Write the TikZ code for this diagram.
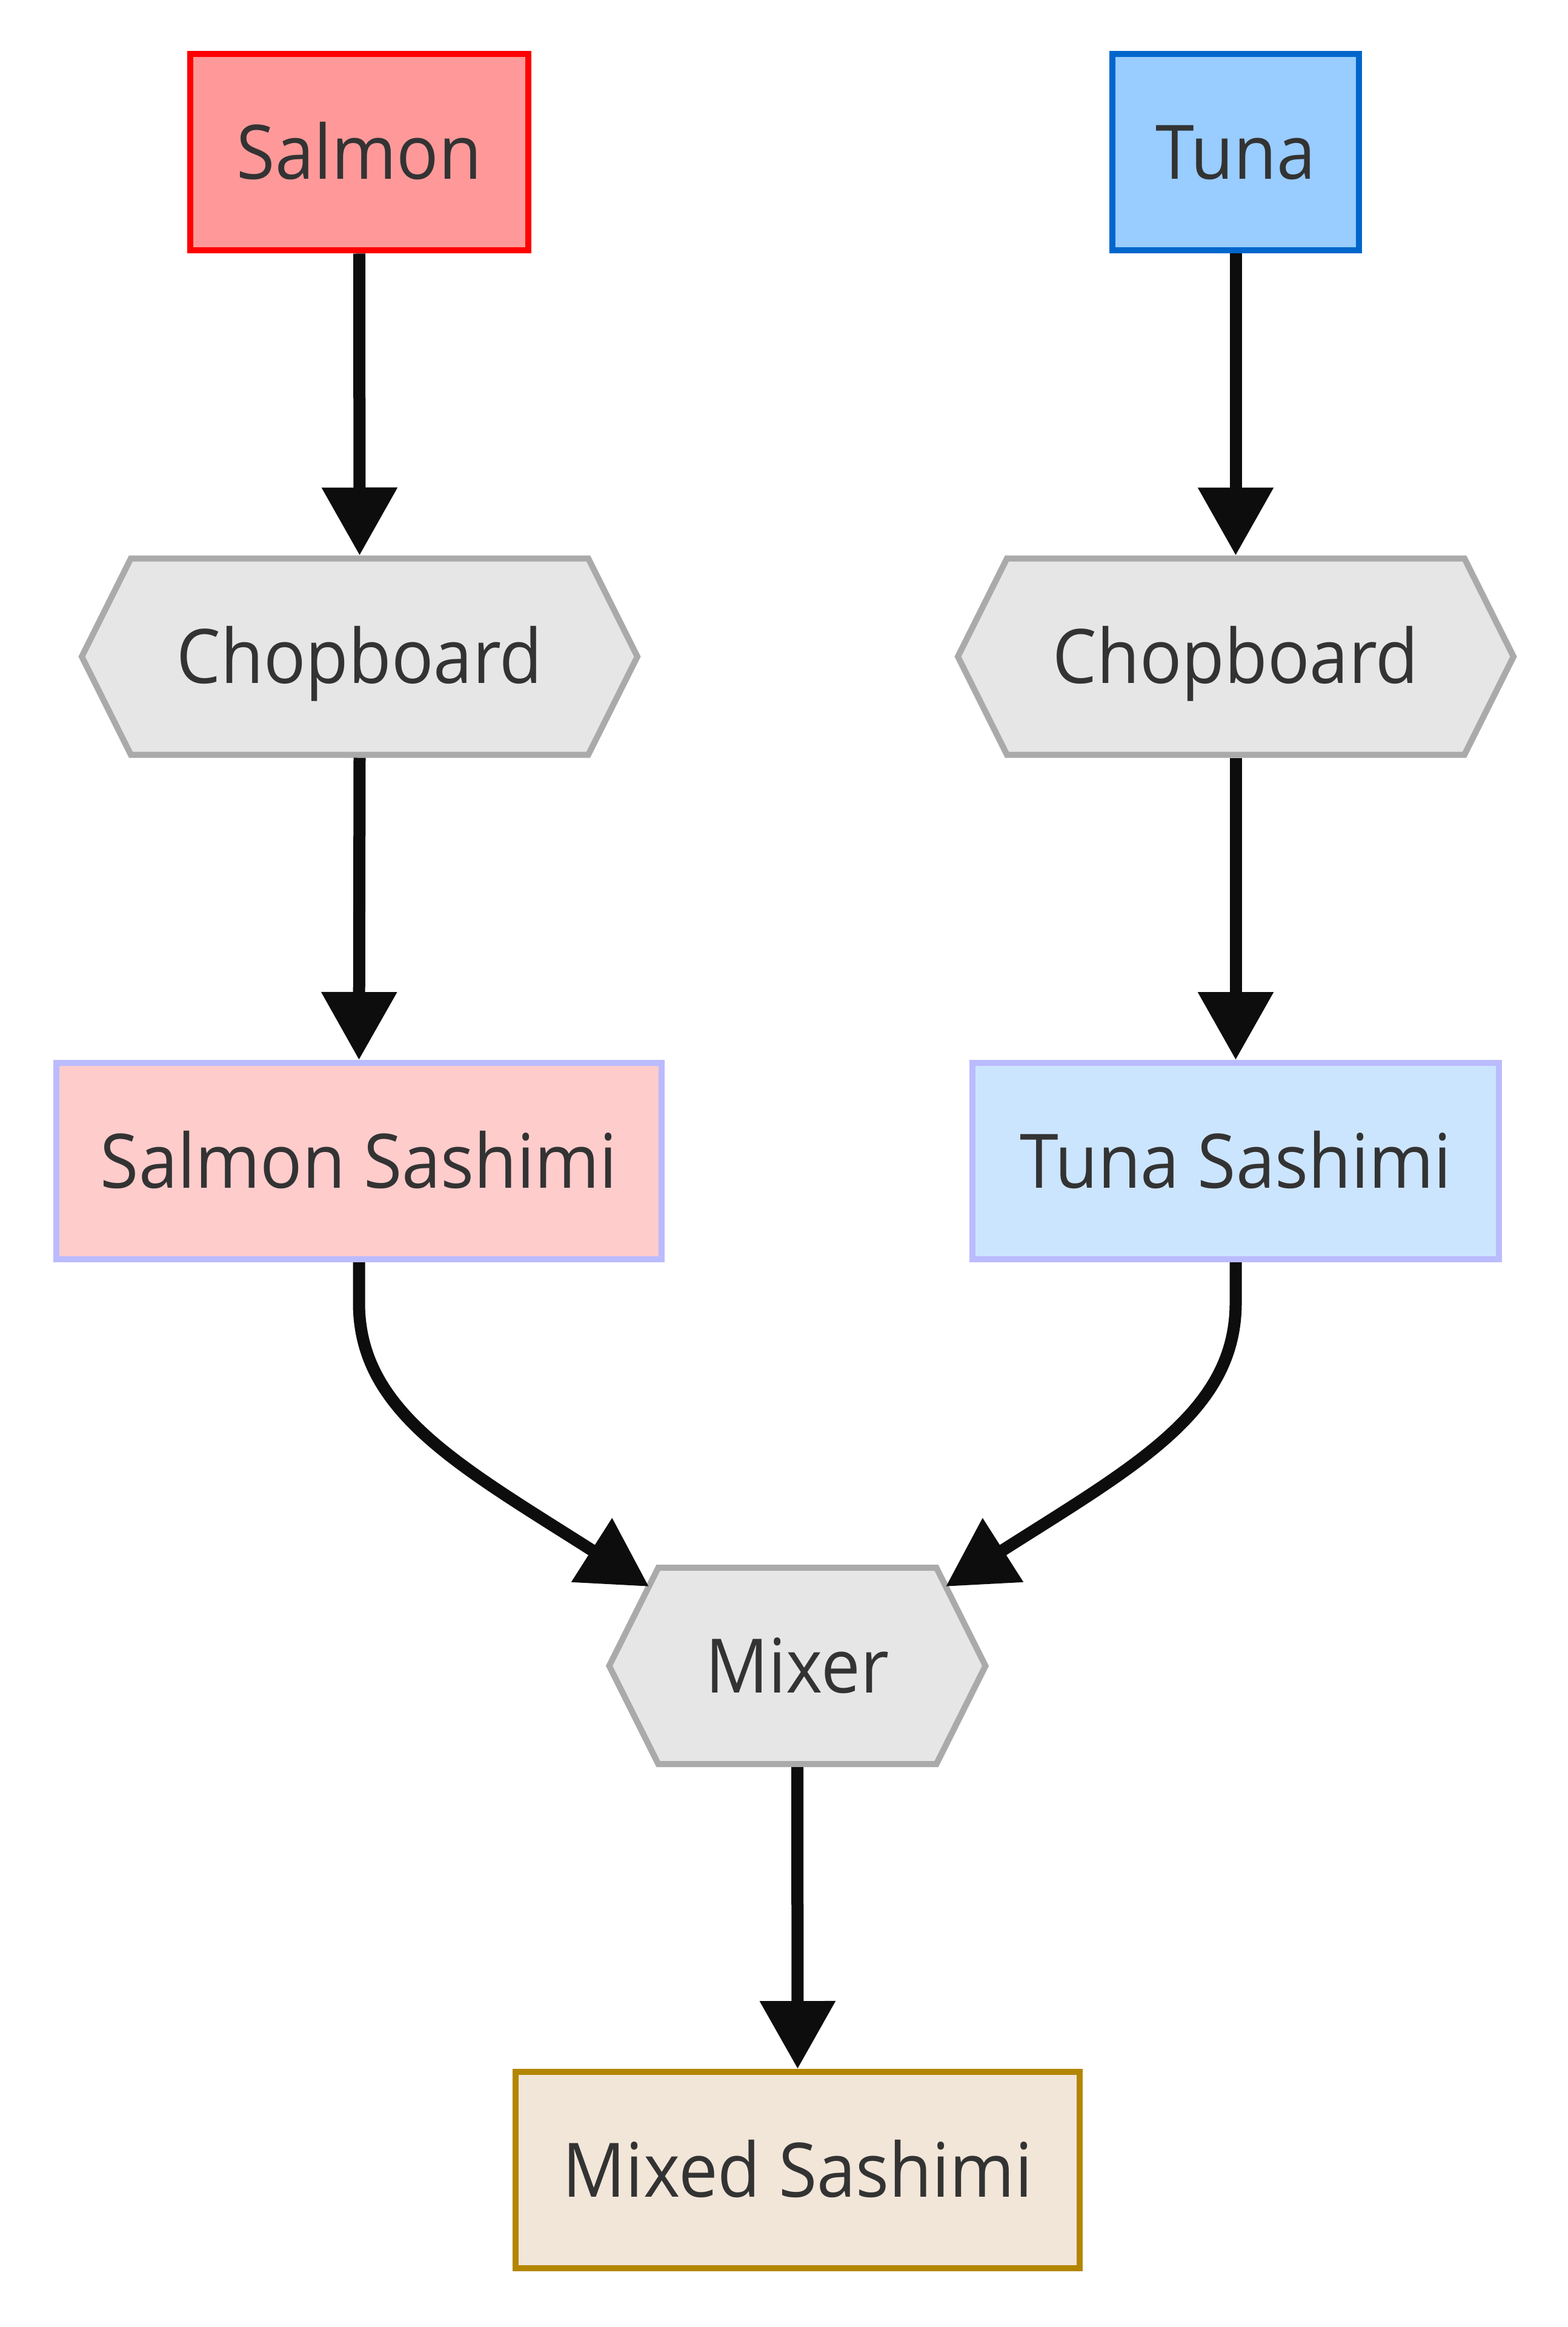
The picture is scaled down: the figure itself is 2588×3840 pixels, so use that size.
\documentclass[tikz,border=0pt]{standalone}
\usepackage{fontspec}
\setmainfont[FakeStretch=0.93]{Open Sans}
\usetikzlibrary{arrows.meta,calc,backgrounds}
\definecolor{txt}{HTML}{333333}
\definecolor{edgecol}{HTML}{0D0D0D}
\definecolor{salmonfill}{HTML}{FF9999}
\definecolor{salmonline}{HTML}{FF0000}
\definecolor{tunafill}{HTML}{99CCFF}
\definecolor{tunaline}{HTML}{0066CC}
\definecolor{ssfill}{HTML}{FFCCCC}
\definecolor{tsfill}{HTML}{CCE5FF}
\definecolor{sashline}{HTML}{BBBBFF}
\definecolor{hexfillc}{HTML}{E6E6E6}
\definecolor{hexline}{HTML}{AAAAAA}
\definecolor{mixfill}{HTML}{F2E6D9}
\definecolor{mixline}{HTML}{B38600}
\newcommand\hexoutline[3]{%
  \filldraw[hexstyle] ($(#1.center)+(-#2,-#3)$) -- ($(#1.center)+(#2,-#3)$)
    -- ($(#1.center)+({#2+81},0)$) -- ($(#1.center)+(#2,#3)$)
    -- ($(#1.center)+(-#2,#3)$) -- ($(#1.center)+({-#2-81},0)$) -- cycle;}
\begin{document}
\begin{tikzpicture}[x=0.25pt,y=-0.25pt,
  base/.style={rectangle, line width=2.5pt, inner sep=0pt, text=txt,
    font=\fontsize{31}{37}\selectfont, text height=22.1pt, text depth=0pt,
    minimum height=81pt},
  salmonbox/.style={base, fill=salmonfill, draw=salmonline},
  tunabox/.style={base, fill=tunafill, draw=tunaline},
  ssbox/.style={base, fill=ssfill, draw=sashline},
  tsbox/.style={base, fill=tsfill, draw=sashline},
  mixedbox/.style={base, fill=mixfill, draw=mixline},
  hexnode/.style={base, draw=none, fill=none, outer sep=0pt, minimum height=83.5pt},
  hexstyle/.style={line width=2.5pt, fill=hexfillc, draw=hexline},
  edge/.style={line width=5pt, draw=edgecol, -{Triangle[length=28pt,width=30pt]}}
]
\useasboundingbox (0,0) rectangle (2588,3840);

\node[salmonbox, minimum width=139.5pt] (salmon) at (593,251.5) {Salmon};
\node[tunabox, minimum width=101.75pt] (tuna) at (2039.5,251.5) {Tuna};
\node[hexnode, minimum width=188.75pt] (chopL) at (593.5,1083.5) {Chopboard};
\node[hexnode, minimum width=188.75pt] (chopR) at (2039.5,1083.5) {Chopboard};
\node[ssbox, minimum width=249.75pt] (ssash) at (592.5,1916) {Salmon Sashimi};
\node[tsbox, minimum width=217.25pt] (tsash) at (2039.5,1916) {Tuna Sashimi};
\node[hexnode, minimum width=114.75pt] (mixer) at (1316,2749) {Mixer};
\node[mixedbox, minimum width=232.75pt] (mixed) at (1316.5,3581) {Mixed Sashimi};

\begin{pgfonlayer}{background}
  \fill[white] (0,0) rectangle (2588,3840);
  \hexoutline{chopL}{377.5}{162}
  \hexoutline{chopR}{377.5}{162}
  \hexoutline{mixer}{229.5}{162}
\end{pgfonlayer}

\coordinate (mixL) at ($(mixer.center)+(-245,-131)$);
\coordinate (mixR) at ($(mixer.center)+(245,-131)$);

\draw[edge] (salmon.south) -- (chopL.north);
\draw[edge] (tuna.south) -- (chopR.north);
\draw[edge] (chopL.south) -- (ssash.north);
\draw[edge] (chopR.south) -- (tsash.north);
\draw[edge] (ssash.south) -- ++(0,67) .. controls ($(ssash.south)+(0,247)$) and ($(mixL)+(-311,-198)$) .. (mixL);
\draw[edge] (tsash.south) -- ++(0,67) .. controls ($(tsash.south)+(0,247)$) and ($(mixR)+(311,-198)$) .. (mixR);
\draw[edge] (mixer.south) -- (mixed.north);
\end{tikzpicture}
\end{document}
